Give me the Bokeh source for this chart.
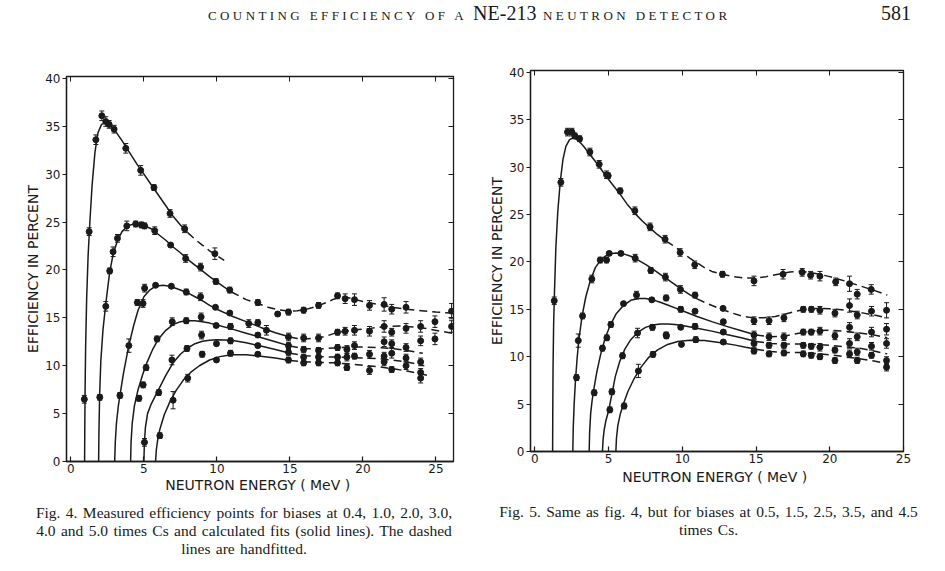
from bokeh.plotting import figure
from bokeh.models import (ColumnDataSource, Whisker, TeeHead, FixedTicker, LinearAxis,
                          Range1d, Div, CustomJSTickFormatter)
from bokeh.layouts import column, row
from bokeh.embed import file_html
from bokeh.resources import INLINE

# ---------------- data : Fig. 4 (biases 0.4, 1.0, 2.0, 3.0, 4.0, 5.0 x Cs) ----------------
f4_b04_x = [0.92, 1.25, 1.71, 2.12, 2.39, 2.62, 2.96, 3.76, 4.78, 5.69, 6.79, 7.79, 9.86]
f4_b04_y = [6.5, 24.0, 33.6, 36.1, 35.5, 35.2, 34.7, 32.7, 30.4, 28.6, 25.9, 24.3, 21.7]
f4_b04_e = [0.4, 0.4, 0.5, 0.5, 0.5, 0.4, 0.4, 0.5, 0.5, 0.3, 0.4, 0.4, 0.6]

f4_b10_x = [1.98, 2.39, 2.66, 2.89, 3.19, 3.83, 4.44, 4.83, 5.05, 5.74, 6.83, 7.86, 8.88, 9.93,
            10.88, 12.8, 14.16, 14.9, 15.94, 16.96, 18.26, 18.78, 19.42, 20.45, 21.45, 21.97, 22.95, 26.07]
f4_b10_y = [6.7, 16.2, 19.9, 21.9, 23.3, 24.6, 24.8, 24.7, 24.6, 24.1, 22.6, 21.2, 20.3, 18.8,
            17.9, 16.6, 15.4, 15.6, 15.8, 16.3, 17.3, 17.0, 16.9, 16.3, 16.4, 15.9, 16.1, 15.7]
f4_b10_e = [0.3, 0.5, 0.3, 0.5, 0.4, 0.5, 0.3, 0.3, 0.3, 0.4, 0.2, 0.4, 0.4, 0.3,
            0.3, 0.3, 0.2, 0.3, 0.3, 0.3, 0.3, 0.5, 0.6, 0.5, 0.7, 0.5, 0.6, 0.8]

f4_b20_x = [3.36, 3.97, 4.55, 4.94, 5.05, 5.8, 6.88, 7.9, 8.88, 9.9, 10.88, 12.18, 12.8, 13.39,
            14.9, 15.94, 16.96, 18.26, 18.78, 19.42, 20.45, 21.45, 21.97, 22.95, 23.95, 24.93, 26.07]
f4_b20_y = [6.9, 12.1, 16.6, 16.5, 18.1, 18.4, 18.3, 17.7, 17.2, 16.1, 15.5, 14.4, 14.5, 13.7,
            13.0, 12.9, 12.9, 13.5, 13.6, 13.7, 13.6, 14.1, 13.5, 13.9, 14.1, 14.6, 14.1]
f4_b20_e = [0.3, 0.7, 0.3, 0.4, 0.4, 0.2, 0.2, 0.3, 0.4, 0.2, 0.2, 0.4, 0.3, 0.5,
            0.4, 0.4, 0.4, 0.3, 0.4, 0.5, 0.5, 0.6, 0.4, 0.5, 0.6, 0.6, 0.6]

f4_b30_x = [4.66, 4.95, 5.15, 5.9, 6.94, 7.9, 8.92, 9.95, 10.93, 12.8, 14.9, 15.94, 16.96, 18.26,
            18.9, 19.42, 21.45, 21.97, 22.95, 23.95, 24.93]
f4_b30_y = [6.6, 8.0, 9.8, 12.8, 14.6, 14.7, 15.1, 14.2, 14.1, 13.2, 12.1, 11.7, 11.6, 11.9,
            11.7, 12.1, 12.5, 12.3, 11.9, 12.6, 12.8]
f4_b30_e = [0.3, 0.3, 0.3, 0.3, 0.4, 0.3, 0.4, 0.2, 0.3, 0.2, 0.3, 0.3, 0.3, 0.3,
            0.4, 0.4, 0.5, 0.4, 0.4, 0.5, 0.6]

f4_b40_x = [5.04, 6.02, 6.92, 7.95, 8.95, 9.97, 10.93, 12.8, 14.9, 15.94, 16.96, 18.26, 18.9, 19.42,
            20.45, 21.45, 21.97, 22.95, 23.95]
f4_b40_y = [2.0, 7.2, 10.6, 11.8, 13.2, 12.3, 12.6, 12.1, 11.4, 10.9, 10.9, 10.9, 10.9, 11.0,
            11.2, 11.0, 11.3, 10.8, 10.4]
f4_b40_e = [0.4, 0.3, 0.5, 0.3, 0.4, 0.2, 0.3, 0.2, 0.3, 0.3, 0.3, 0.3, 0.4, 0.3,
            0.4, 0.4, 0.5, 0.4, 0.4]

f4_b50_x = [6.09, 7.0, 8.0, 8.99, 9.97, 10.93, 12.8, 14.9, 15.94, 16.96, 18.26, 18.9, 20.45, 21.45,
            21.97, 22.95, 23.95, 23.95]
f4_b50_y = [2.7, 6.4, 8.7, 11.2, 10.6, 11.3, 11.2, 10.6, 10.3, 10.3, 10.3, 9.8, 9.5, 10.4,
            9.6, 10.0, 9.3, 8.7]
f4_b50_e = [0.3, 0.9, 0.4, 0.3, 0.2, 0.3, 0.2, 0.3, 0.3, 0.3, 0.3, 0.3, 0.4, 0.4,
            0.3, 0.4, 0.4, 0.5]

# calculated fits (solid) and hand-fitted continuations (dashed), Fig. 4
f4_fit04_x = [0.94, 0.95, 0.97, 1.01, 1.08, 1.18, 1.3, 1.45, 1.65, 1.85, 2.1, 2.35, 2.6, 3.0, 3.5,
              4.0, 4.5, 5.0, 5.5, 6.0, 6.5, 7.0, 7.5, 8.0]
f4_fit04_y = [0, 3, 7, 12, 17, 21.5, 25.0, 28.8, 32.3, 34.3, 35.2, 35.35, 35.2, 34.6, 33.5,
              32.3, 31.1, 30.0, 28.9, 27.8, 26.7, 25.6, 24.7, 23.9]
f4_hand04_x = [8.0, 8.5, 9.0, 9.5, 10.0, 10.5]
f4_hand04_y = [23.9, 23.2, 22.6, 22.0, 21.5, 21.0]

f4_fit10_x = [1.9, 1.92, 1.97, 2.05, 2.2, 2.4, 2.65, 2.9, 3.2, 3.5, 3.9, 4.4, 4.9, 5.5, 6.0, 6.5,
              7.0, 7.5, 8.0, 8.5, 9.0, 9.5, 10.0, 10.5, 11.0]
f4_fit10_y = [0, 3, 7, 10.5, 13.8, 16.6, 19.7, 21.7, 23.1, 24.0, 24.6, 24.85, 24.7, 24.3, 23.7, 23.1,
              22.4, 21.8, 21.1, 20.5, 19.9, 19.3, 18.75, 18.2, 17.7]
f4_hand10_x = [11.0, 11.5, 12.0, 12.8, 13.5, 14.2, 15.0, 15.5, 16.0, 16.5, 17.0, 17.5, 18.0, 18.5,
               19.0, 19.5, 20.0, 21.0, 22.0, 23.0, 24.0, 25.0, 26.1]
f4_hand10_y = [17.7, 17.3, 16.9, 16.5, 16.1, 15.85, 15.7, 15.75, 15.85, 16.05, 16.3, 16.6, 16.95, 17.2,
               17.1, 16.9, 16.7, 16.4, 16.1, 15.9, 15.75, 15.6, 15.5]

f4_fit20_x = [3.0, 3.04, 3.12, 3.25, 3.4, 3.6, 3.95, 4.3, 4.6, 5.0, 5.4, 5.8, 6.3, 6.8, 7.5, 8.0,
              8.5, 9.0, 9.5, 10.0, 11.0, 12.0, 13.0, 14.0, 15.0]
f4_fit20_y = [0, 2, 4, 5.8, 7.3, 9.2, 12.0, 14.2, 15.8, 17.2, 17.9, 18.3, 18.4, 18.3, 17.9, 17.6,
              17.2, 16.8, 16.3, 15.9, 15.2, 14.6, 14.0, 13.45, 13.0]
f4_hand20_x = [15.0, 15.5, 16.0, 17.0, 17.5, 18.0, 18.5, 19.5, 20.5, 21.5, 22.5, 23.5, 24.5, 25.3, 26.1]
f4_hand20_y = [13.0, 12.85, 12.8, 12.9, 13.1, 13.35, 13.55, 13.75, 13.9, 14.1, 14.15, 14.05, 13.85,
               13.6, 13.4]

f4_fit30_x = [4.09, 4.12, 4.2, 4.35, 4.6, 4.9, 5.2, 5.6, 6.0, 6.5, 7.0, 7.5, 8.0, 8.5, 9.0, 9.5,
              10.0, 11.0, 12.0, 13.0, 14.0, 15.0]
f4_fit30_y = [0, 2, 4, 5.8, 7.5, 9.0, 10.3, 11.7, 12.8, 13.7, 14.3, 14.6, 14.7, 14.7, 14.6, 14.45,
              14.25, 13.85, 13.4, 12.95, 12.5, 12.05]
f4_hand30_x = [15.0, 16.0, 17.0, 18.0, 19.0, 20.0, 21.0, 22.0, 23.0, 24.1]
f4_hand30_y = [12.05, 11.8, 11.75, 11.85, 11.95, 11.95, 11.9, 11.8, 11.6, 11.3]

f4_fit40_x = [5.0, 5.03, 5.1, 5.25, 5.5, 5.8, 6.1, 6.5, 7.0, 7.5, 8.0, 8.5, 9.0, 9.5, 10.0, 11.0,
              12.0, 13.0, 14.0, 15.0]
f4_fit40_y = [0, 1.8, 3.5, 5.0, 6.0, 6.9, 7.8, 9.0, 10.3, 11.2, 11.85, 12.3, 12.55, 12.65, 12.7,
              12.65, 12.4, 12.05, 11.7, 11.3]
f4_hand40_x = [15.0, 16.0, 17.0, 18.0, 19.0, 20.0, 21.0, 22.0, 23.0, 24.2]
f4_hand40_y = [11.3, 11.05, 10.95, 10.9, 10.85, 10.8, 10.75, 10.6, 10.4, 10.0]

f4_fit50_x = [5.8, 5.85, 5.95, 6.1, 6.4, 6.8, 7.2, 7.7, 8.2, 8.8, 9.5, 10.2, 11.0, 12.0, 13.0, 14.0, 15.0]
f4_fit50_y = [0, 1.2, 2.3, 3.4, 4.9, 6.3, 7.4, 8.5, 9.3, 10.0, 10.6, 10.95, 11.15, 11.15, 11.0, 10.8, 10.55]
f4_hand50_x = [15.0, 16.0, 17.0, 18.0, 19.0, 20.0, 21.0, 22.0, 23.0, 24.4]
f4_hand50_y = [10.55, 10.4, 10.35, 10.3, 10.2, 10.05, 9.9, 9.7, 9.45, 9.0]

# ---------------- data : Fig. 5 (biases 0.5, 1.5, 2.5, 3.5, 4.5 x Cs) ----------------
f5_b05_x = [1.31, 1.76, 2.21, 2.51, 2.71, 3.03, 3.73, 4.36, 4.86, 4.97, 5.78, 6.78, 7.81, 8.83,
            9.85, 10.84, 12.72, 14.86, 16.83, 18.13, 18.7, 19.33, 20.4, 21.34, 21.86, 22.81]
f5_b05_y = [15.9, 28.4, 33.7, 33.7, 33.3, 33.0, 31.6, 30.3, 29.2, 29.1, 27.5, 25.4, 23.7, 22.4,
            21.0, 19.7, 18.7, 18.0, 18.7, 18.9, 18.6, 18.5, 17.9, 17.7, 16.6, 17.1]
f5_b05_e = [0.4, 0.4, 0.4, 0.4, 0.3, 0.3, 0.4, 0.4, 0.4, 0.3, 0.3, 0.4, 0.4, 0.4,
            0.4, 0.4, 0.3, 0.5, 0.5, 0.4, 0.4, 0.5, 0.4, 0.8, 0.5, 0.5]

f5_b15_x = [2.82, 2.94, 3.23, 3.86, 4.43, 4.86, 5.04, 5.83, 6.8, 7.86, 8.85, 9.87, 10.86, 12.76,
            14.86, 15.88, 16.89, 18.2, 18.75, 19.33, 20.35, 21.34, 21.86, 22.83, 23.85]
f5_b15_y = [7.8, 11.7, 14.3, 18.2, 20.2, 20.2, 20.9, 20.9, 20.4, 19.1, 18.4, 17.1, 16.5, 15.1,
            13.8, 13.8, 14.1, 15.0, 15.0, 14.9, 14.6, 15.4, 14.4, 14.8, 14.9]
f5_b15_e = [0.3, 0.7, 0.3, 0.4, 0.3, 0.3, 0.2, 0.2, 0.4, 0.3, 0.4, 0.4, 0.3, 0.2,
            0.4, 0.4, 0.4, 0.3, 0.3, 0.4, 0.4, 0.7, 0.4, 0.5, 0.8]

f5_b25_x = [4.02, 4.58, 4.88, 5.15, 6.01, 6.89, 7.93, 8.9, 9.89, 10.86, 12.78, 14.86, 15.88, 16.89,
            18.2, 18.74, 19.33, 20.35, 21.34, 21.86, 22.83, 23.85]
f5_b25_y = [6.2, 10.9, 12.0, 13.4, 15.6, 16.5, 16.0, 16.2, 15.0, 14.8, 13.7, 12.3, 12.1, 12.1,
            12.6, 12.6, 12.7, 12.2, 13.1, 12.1, 12.6, 12.9]
f5_b25_e = [0.3, 0.3, 0.3, 0.3, 0.2, 0.4, 0.2, 0.3, 0.3, 0.2, 0.2, 0.4, 0.4, 0.4,
            0.3, 0.3, 0.4, 0.4, 0.5, 0.4, 0.5, 0.6]

f5_b35_x = [5.08, 5.22, 5.94, 6.96, 7.97, 8.9, 9.89, 10.86, 12.78, 14.86, 15.88, 16.89, 18.2, 18.74,
            19.33, 20.35, 21.34, 21.86, 22.83, 23.85]
f5_b35_y = [4.4, 6.3, 10.1, 12.5, 13.1, 12.3, 13.1, 13.2, 12.6, 11.4, 11.2, 11.2, 11.2, 11.1,
            11.0, 10.7, 11.4, 10.5, 11.1, 11.4]
f5_b35_e = [0.3, 0.3, 0.3, 0.5, 0.3, 0.3, 0.2, 0.3, 0.2, 0.4, 0.3, 0.3, 0.3, 0.3,
            0.4, 0.3, 0.5, 0.4, 0.4, 0.5]

f5_b45_x = [6.05, 7.02, 8.01, 8.92, 9.94, 10.91, 12.78, 14.86, 15.88, 16.89, 18.2, 18.74, 19.33,
            20.35, 21.34, 21.86, 22.83, 23.85, 23.85]
f5_b45_y = [4.8, 8.5, 10.25, 12.2, 11.3, 11.8, 11.55, 10.6, 10.3, 10.4, 10.3, 10.15, 10.0,
            9.6, 10.3, 9.6, 10.15, 8.9, 9.6]
f5_b45_e = [0.3, 0.7, 0.3, 0.3, 0.2, 0.3, 0.2, 0.3, 0.3, 0.3, 0.3, 0.3, 0.3,
            0.3, 0.4, 0.3, 0.3, 0.4, 0.4]

f5_fit05_x = [1.2, 1.21, 1.23, 1.27, 1.33, 1.42, 1.55, 1.72, 1.9, 2.1, 2.35, 2.6, 2.9, 3.3, 3.8,
              4.3, 4.8, 5.3, 5.8, 6.3, 6.8, 7.3, 7.8, 8.3, 8.9]
f5_fit05_y = [0, 4, 9, 13.5, 17.0, 21.5, 25.3, 28.5, 30.8, 32.2, 32.9, 33.1, 32.9, 32.2, 31.2,
              30.2, 29.1, 28.1, 27.1, 26.0, 25.1, 24.3, 23.6, 22.9, 22.2]
f5_hand05_x = [8.9, 9.5, 10.0, 10.5, 11.0, 11.5, 12.0, 12.7, 13.5, 14.3, 15.0, 15.7, 16.5, 17.3,
               18.0, 18.6, 19.3, 20.0, 21.0, 22.0, 23.0, 23.9]
f5_hand05_y = [22.2, 21.6, 21.0, 20.4, 19.9, 19.4, 19.0, 18.7, 18.45, 18.3, 18.3, 18.45, 18.7, 18.95,
               19.0, 18.9, 18.7, 18.45, 18.0, 17.5, 17.0, 16.5]

f5_fit15_x = [2.57, 2.6, 2.66, 2.75, 2.87, 3.0, 3.2, 3.45, 3.75, 4.1, 4.5, 5.0, 5.5, 6.0, 6.5, 7.0,
              7.5, 8.0, 8.5, 9.0, 9.5, 10.0, 10.5, 11.0]
f5_fit15_y = [0, 2.5, 5, 7.5, 10.0, 12.0, 14.3, 16.3, 18.0, 19.4, 20.3, 20.85, 20.95, 20.85, 20.6, 20.2,
              19.75, 19.25, 18.7, 18.15, 17.6, 17.05, 16.55, 16.1]
f5_hand15_x = [11.0, 11.7, 12.5, 13.3, 14.0, 14.8, 15.5, 16.3, 17.0, 17.7, 18.5, 19.3, 20.0, 20.8,
               21.5, 22.3, 23.0, 23.9]
f5_hand15_y = [16.1, 15.6, 15.1, 14.65, 14.3, 14.1, 14.1, 14.25, 14.5, 14.8, 15.05, 15.1, 15.05, 14.95,
               14.8, 14.6, 14.4, 14.1]

f5_fit25_x = [3.68, 3.71, 3.78, 3.88, 4.02, 4.2, 4.45, 4.75, 5.1, 5.5, 6.0, 6.5, 7.0, 7.5, 8.0, 8.5,
              9.0, 9.5, 10.0, 11.0, 12.0, 13.0, 14.0, 15.0]
f5_fit25_y = [0, 2, 4, 5.4, 6.8, 8.4, 10.2, 11.9, 13.3, 14.5, 15.4, 15.95, 16.15, 16.15, 16.0, 15.75,
              15.45, 15.15, 14.85, 14.25, 13.7, 13.2, 12.75, 12.3]
f5_hand25_x = [15.0, 16.0, 17.0, 18.0, 19.0, 20.0, 21.0, 22.0, 23.0, 23.9]
f5_hand25_y = [12.3, 12.1, 12.2, 12.5, 12.75, 12.8, 12.7, 12.5, 12.3, 12.0]

f5_fit35_x = [4.58, 4.62, 4.7, 4.82, 5.0, 5.2, 5.45, 5.75, 6.1, 6.5, 7.0, 7.5, 8.0, 8.5, 9.0, 9.5,
              10.0, 11.0, 12.0, 13.0, 14.0, 15.0]
f5_fit35_y = [0, 1.2, 2.3, 3.3, 4.3, 5.9, 7.9, 9.5, 10.8, 11.8, 12.6, 13.1, 13.35, 13.45, 13.45, 13.4,
              13.3, 13.0, 12.7, 12.35, 12.0, 11.6]
f5_hand35_x = [15.0, 16.0, 17.0, 18.0, 19.0, 20.0, 21.0, 22.0, 23.0, 23.9]
f5_hand35_y = [11.6, 11.4, 11.35, 11.35, 11.3, 11.2, 11.05, 10.9, 10.6, 10.3]

f5_fit45_x = [5.49, 5.53, 5.62, 5.78, 6.0, 6.3, 6.7, 7.2, 7.7, 8.3, 9.0, 9.7, 10.5, 11.5, 12.5,
              13.5, 14.3, 15.0]
f5_fit45_y = [0, 1.4, 2.7, 3.9, 5.0, 6.3, 7.6, 8.9, 9.9, 10.7, 11.3, 11.6, 11.75, 11.7, 11.5,
              11.25, 11.0, 10.8]
f5_hand45_x = [15.0, 16.0, 17.0, 18.0, 19.0, 20.0, 21.0, 22.0, 23.0, 23.9]
f5_hand45_y = [10.8, 10.55, 10.45, 10.45, 10.35, 10.2, 10.0, 9.8, 9.55, 9.25]

x_ticks = [0, 5, 10, 15, 20, 25]
y_ticks = [0, 5, 10, 15, 20, 25, 30, 35, 40]

x_label = "NEUTRON  ENERGY ( MeV )"
y_label = "EFFICIENCY IN PERCENT"

cap4 = ("Fig. 4. Measured efficiency points for biases at 0.4, 1.0, 2.0, 3.0,<br>"
        "4.0 and 5.0 times Cs and calculated fits (solid lines). The dashed<br>"
        "lines are handfitted.")
cap5 = "Fig. 5. Same as fig. 4, but for biases at 0.5, 1.5, 2.5, 3.5, and 4.5<br>times Cs."

INK = "#1a1a1a"
AX_FONT = "DejaVu Sans"


def make_fig(xmax, fw, fh, bl, bt, br, bb, xlab_standoff, ylab_standoff):
    p = figure(output_backend="svg", toolbar_location=None,
               x_range=Range1d(-0.3, xmax), y_range=Range1d(0, 40.2),
               frame_width=fw, frame_height=fh,
               min_border_left=bl, min_border_top=bt, min_border_right=br, min_border_bottom=bb,
               background_fill_color="white", border_fill_color="white")
    p.grid.visible = False
    p.outline_line_color = INK
    p.outline_line_width = 1.3
    for ax in (p.xaxis[0], p.yaxis[0]):
        ax.axis_line_color = INK
        ax.axis_line_width = 1.3
        ax.major_tick_line_color = INK
        ax.major_tick_line_width = 1.2
        ax.minor_tick_line_color = None
        ax.major_label_text_font = AX_FONT
        ax.major_label_text_font_size = "12px"
        ax.major_label_text_color = INK
        ax.axis_label_text_font = AX_FONT
        ax.axis_label_text_font_size = "14px"
        ax.axis_label_text_font_style = "normal"
        ax.axis_label_text_color = INK
    p.xaxis.ticker = FixedTicker(ticks=x_ticks)
    p.yaxis.ticker = FixedTicker(ticks=y_ticks)
    p.xaxis.major_tick_in = 5
    p.xaxis.major_tick_out = 0
    p.yaxis.major_tick_in = 0
    p.yaxis.major_tick_out = 4
    p.xaxis.major_label_standoff = 2
    p.yaxis.major_label_standoff = 2
    p.xaxis.axis_label = x_label
    p.yaxis.axis_label = y_label
    p.xaxis.axis_label_standoff = xlab_standoff
    p.yaxis.axis_label_standoff = ylab_standoff
    blank = CustomJSTickFormatter(code="return ''")
    top = LinearAxis(ticker=FixedTicker(ticks=x_ticks), formatter=blank,
                     major_tick_in=5, major_tick_out=0, minor_tick_line_color=None,
                     axis_line_color=INK, major_tick_line_color=INK, major_label_standoff=0)
    right = LinearAxis(ticker=FixedTicker(ticks=y_ticks), formatter=blank,
                       major_tick_in=5, major_tick_out=0, minor_tick_line_color=None,
                       axis_line_color=INK, major_tick_line_color=INK, major_label_standoff=0)
    p.add_layout(top, "above")
    p.add_layout(right, "right")
    return p


def add_points(p, xs, ys, es):
    src = ColumnDataSource(dict(x=xs, y=ys,
                                upper=[y + e for y, e in zip(ys, es)],
                                lower=[y - e for y, e in zip(ys, es)]))
    w = Whisker(source=src, base="x", upper="upper", lower="lower", dimension="height",
                line_color=INK, line_width=1,
                upper_head=TeeHead(size=5, line_color=INK, line_width=1),
                lower_head=TeeHead(size=5, line_color=INK, line_width=1))
    p.add_layout(w)
    p.scatter("x", "y", source=src, size=6, marker="circle",
              fill_color=INK, line_color=INK)


def add_curve(p, fx, fy, hx, hy):
    p.line(fx, fy, line_color=INK, line_width=1.5)
    p.line(hx, hy, line_color=INK, line_width=1.5, line_dash="8 5")


# ---------------- Fig. 4 ----------------
p4 = make_fig(26.2, 387, 385, 58, 52, 27, 34, 1, 1)
for fx, fy, hx, hy in [(f4_fit04_x, f4_fit04_y, f4_hand04_x, f4_hand04_y),
                       (f4_fit10_x, f4_fit10_y, f4_hand10_x, f4_hand10_y),
                       (f4_fit20_x, f4_fit20_y, f4_hand20_x, f4_hand20_y),
                       (f4_fit30_x, f4_fit30_y, f4_hand30_x, f4_hand30_y),
                       (f4_fit40_x, f4_fit40_y, f4_hand40_x, f4_hand40_y),
                       (f4_fit50_x, f4_fit50_y, f4_hand50_x, f4_hand50_y)]:
    add_curve(p4, fx, fy, hx, hy)
for xs, ys, es in [(f4_b04_x, f4_b04_y, f4_b04_e), (f4_b10_x, f4_b10_y, f4_b10_e),
                   (f4_b20_x, f4_b20_y, f4_b20_e), (f4_b30_x, f4_b30_y, f4_b30_e),
                   (f4_b40_x, f4_b40_y, f4_b40_e), (f4_b50_x, f4_b50_y, f4_b50_e)]:
    add_points(p4, xs, ys, es)

# ---------------- Fig. 5 ----------------
p5 = make_fig(25.0, 373, 381, 50, 46, 34, 38, 3, 1)
for fx, fy, hx, hy in [(f5_fit05_x, f5_fit05_y, f5_hand05_x, f5_hand05_y),
                       (f5_fit15_x, f5_fit15_y, f5_hand15_x, f5_hand15_y),
                       (f5_fit25_x, f5_fit25_y, f5_hand25_x, f5_hand25_y),
                       (f5_fit35_x, f5_fit35_y, f5_hand35_x, f5_hand35_y),
                       (f5_fit45_x, f5_fit45_y, f5_hand45_x, f5_hand45_y)]:
    add_curve(p5, fx, fy, hx, hy)
for xs, ys, es in [(f5_b05_x, f5_b05_y, f5_b05_e), (f5_b15_x, f5_b15_y, f5_b15_e),
                   (f5_b25_x, f5_b25_y, f5_b25_e), (f5_b35_x, f5_b35_y, f5_b35_e),
                   (f5_b45_x, f5_b45_y, f5_b45_e)]:
    add_points(p5, xs, ys, es)

# ---------------- page texts ----------------
header = Div(width=929, height=16, margin=0, text=(
    "<div style=\"position:relative;width:929px;height:16px;font-family:'Liberation Serif';color:#1a1a1a;\">"
    "<span style=\"position:absolute;left:200px;top:-3px;white-space:nowrap;line-height:16px;\">"
    "<span style=\"font-size:13px;letter-spacing:3.4px;\">COUNTING EFFICIENCY OF A </span>"
    "<span style=\"font-size:20px;\">NE-213</span>"
    "<span style=\"font-size:13px;letter-spacing:3.4px;\"> NEUTRON DETECTOR</span></span>"
    "<span style=\"position:absolute;left:873px;top:-3px;font-size:20px;line-height:16px;\">581</span>"
    "</div>"))

cap_style = ("text-align:center;font-family:'Liberation Serif';font-size:15.5px;line-height:18px;"
             "word-spacing:1.5px;color:#1a1a1a;white-space:nowrap;")
cap4_div = Div(width=472, height=66, margin=0, text=(
    "<div style=\"width:472px;padding-top:9px;" + cap_style + "\">" + cap4 + "</div>"))
cap5_div = Div(width=457, height=66, margin=0, text=(
    "<div style=\"width:457px;padding-top:14px;" + cap_style + "\">" + cap5 + "</div>"))

layout = column(header, row(column(p4, cap4_div), column(p5, cap5_div)), margin=(8, 0, 0, 8))

open("out.html", "w").write(file_html(layout, INLINE))
